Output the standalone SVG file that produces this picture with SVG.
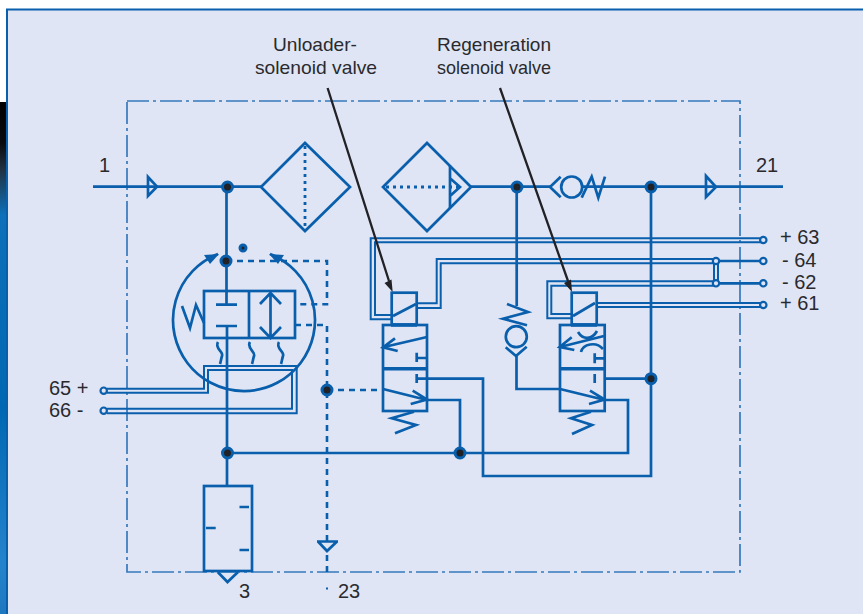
<svg xmlns="http://www.w3.org/2000/svg" width="863" height="614" viewBox="0 0 863 614">
<style>
text{font-family:"Liberation Sans",Arial,sans-serif;font-size:20px;fill:#2a2a2e}
.l{fill:none;stroke:#0a5fad;stroke-width:2.7;stroke-linejoin:miter}
.t{fill:none;stroke:#0a5fad;stroke-width:2}
.h{fill:none;stroke:#0a5fad;stroke-width:3.6}
.d{fill:none;stroke:#0a5fad;stroke-width:2.6;stroke-dasharray:6 5}
.o{fill:none;stroke:#0a5fad;stroke-width:2.8;stroke-dasharray:3 4}
.b{fill:none;stroke:#3679bd;stroke-width:1.7;stroke-dasharray:22 4 3 4}
.k{fill:none;stroke:#222226;stroke-width:2.3}
.j{fill:#222226;stroke:#0a5fad;stroke-width:3}
.c{fill:#dfe5f4;stroke:#0a5fad;stroke-width:2.2}
</style>
<defs>
<linearGradient id="strip" x1="0" y1="0" x2="0" y2="1">
<stop offset="0" stop-color="#000"/><stop offset="0.08" stop-color="#0a0a0e"/><stop offset="0.13" stop-color="#20303f"/><stop offset="0.22" stop-color="#0d70b8"/><stop offset="0.6" stop-color="#0068b2"/><stop offset="0.9" stop-color="#2484cb"/><stop offset="1" stop-color="#1e78c0"/>
</linearGradient>
<circle id="dot" r="5" class="j"/>
<circle id="term" r="3.2" class="c"/>
</defs>
<rect width="863" height="614" fill="#fff"/>
<rect x="0" y="102" width="8" height="512" fill="url(#strip)"/>
<rect x="7" y="9.5" width="870" height="620" fill="#dfe5f4" stroke="#0a5fad" stroke-width="2"/>
<rect id="boundary" x="127" y="101" width="613" height="471" class="b"/>

<g id="connectors">
<path class="l" d="M93 186.7H261M471 186.7H550M582 186.7H783"/>
<path class="l" d="M226.5 187V304M227 326V486M227 453H628V400H605M427 400H460V453"/>
<path class="l" d="M516.7 187V306M516.5 356V389H560M651 187V476H483V378.7H417M605 378.7H651"/>
<path class="d" d="M226 261H327V304.3H295M295 325H327V541M327 390H383M327 555V576"/>
<path class="t" d="M107 388.7H204V366H296.7V413.3H107M107 392.7H208V370H292V408.7H107"/>
<path class="t" d="M763 238.3H370.7V319.3H392M763 242.3H375V315H392"/>
<path class="t" d="M716 259H436.7V303.3H417M716 263.3H440.7V308H417"/>
<path class="t" d="M716 281.3H547.3V318.3H572M716 285.7H551.3V314H572"/>
<path class="t" d="M596.7 303H763M596.7 307H763"/>
<path class="l" d="M716 261H763M716 283.3H763"/>
<path class="t" d="M714 261V283.3M718 261V283.3"/>
<path class="k" d="M327.6 88L389 281M500 88L568 281"/>
<path fill="#222226" d="M392.7 292L384.5 283L391.5 279.5ZM572 292L564 283L571 279.5Z"/>
<use href="#dot" x="227.5" y="187"/>
<use href="#dot" x="226" y="261"/>
<use href="#dot" x="517" y="187"/>
<use href="#dot" x="651" y="187"/>
<use href="#dot" x="651" y="378.7"/>
<use href="#dot" x="327" y="390"/>
<use href="#dot" x="227.5" y="453"/>
<use href="#dot" x="460" y="453"/>
<use href="#term" x="716" y="261"/>
<use href="#term" x="716" y="283.3"/>
<use href="#term" x="763.3" y="240"/>
<use href="#term" x="763.3" y="261"/>
<use href="#term" x="763.3" y="283.3"/>
<use href="#term" x="763.3" y="305"/>
<use href="#term" x="103.7" y="390.7"/>
<use href="#term" x="103.7" y="410.7"/>
<circle cx="243" cy="248" r="3" class="j"/>
<rect x="326" y="587.5" width="2" height="2" fill="#0a5fad"/>
</g>

<g id="inlet-check"><path class="l" d="M148 177L157 186.7L148 196Z"/></g>
<g id="outlet-check"><path class="l" d="M706 176L716 187L706 197Z"/></g>

<g id="filter-1">
<path class="l" d="M261 187L305 143L350 187L305 231Z"/>
<path class="o" d="M305 146V228"/>
</g>
<g id="filter-2">
<path class="l" d="M383 187L427 143L471 187L427 231Z"/>
<path class="o" d="M386 187H458"/>
<path class="l" d="M450 165.7V208M450 178.3L460 187L450 196"/>
</g>
<g id="check-valve-outlet">
<path class="l" d="M560.7 176.7L550 187L560.7 197.3"/>
<circle cx="571.7" cy="187" r="10.5" class="l"/>
<path class="l" d="M581.7 197.7L591.7 176.7L598.3 197.7L605 176.7"/>
</g>

<g id="dryer">
<path class="l" d="M218 254A71 71 0 1 0 270 254"/>
<path fill="#0a5fad" d="M219 254L204 255L210 264Z"/>
<path fill="#0a5fad" d="M269 254L284 255L278 264Z"/>
<rect x="204" y="291" width="91" height="47" class="l"/>
<path class="l" d="M249 291V338M216 304.6H237M216 326H237"/>
<path class="l" d="M270.5 293V337M260 304L270.5 293L281 304M260 327L270.5 338L281 327"/>
<path class="l" d="M182 306L190 328L196 305L204 323"/>
<path class="l" d="M218 342C214 348 224 352 222 356C221 359 221 361 220 364"/>
<path class="l" d="M250 342C246 348 256 352 254 356C253 359 253 361 252 364"/>
<path class="l" d="M279 342C275 348 285 352 283 356C282 359 282 361 281 364"/>
</g>

<g id="unloader-valve">
<rect x="383" y="325" width="44" height="86" class="l"/>
<rect x="391.7" y="292.7" width="25" height="32" class="l"/>
<path class="h" d="M391 325H417M383 368.7H427"/>
<path class="l" d="M393 316L416 304"/>
<path class="l" d="M427 337L383 347.3M395 338.3L383 347.3L397.7 351"/>
<path class="l" d="M427 358H417M416.7 352.7V362M416.7 374V383"/>
<path class="l" d="M383 389L427 400M412.7 390.7L427 399.5L410.7 404"/>
<path class="l" d="M414 411.7L391.7 418.3L416 425L395 433.3"/>
</g>

<g id="regeneration-valve">
<rect x="560" y="325" width="44.7" height="86" class="l"/>
<rect x="571.7" y="292.7" width="25" height="32" class="l"/>
<path class="h" d="M571 325H597M560 368.7H605"/>
<path class="l" d="M573 316L595 303"/>
<path class="l" d="M604 336L560 347M571.7 337.3L559.7 347L574.3 350"/>
<path class="l" d="M578 332C583 340 592 340 597 331M581 352C583 344 596 341 603 349"/>
<path class="l" d="M604 358.3H594.7M594.7 353.3V363.3M594.7 374V383"/>
<path class="l" d="M560 389L605 400M590 390.7L604.7 399.5L589 404"/>
<path class="l" d="M591 411.7L571 418.3L592 425L572 434"/>
</g>

<g id="check-valve-bypass">
<path class="l" d="M507 304L528 312L503 318.7L527 325.3"/>
<circle cx="516.3" cy="336.7" r="10.5" class="l"/>
<path class="l" d="M505.7 347.3L516 356L526.7 346.7"/>
</g>

<g id="drain">
<rect x="204" y="486" width="48" height="85" class="l"/>
<path class="l" d="M239.5 507H249M239.5 550H249M206 528H215.7"/>
<path class="l" d="M217.7 572L227.5 582L238 572"/>
</g>
<g id="exhaust"><path class="l" d="M317 541.5H338M318 541.5L327 551L337 541.5"/></g>

<g id="labels">
<text x="273" y="51" textLength="84" lengthAdjust="spacingAndGlyphs" style="font-size:18.5px">Unloader-</text>
<text x="255" y="74" textLength="122" lengthAdjust="spacingAndGlyphs" style="font-size:18.5px">solenoid valve</text>
<text x="437" y="51" textLength="114" lengthAdjust="spacingAndGlyphs" style="font-size:18.5px">Regeneration</text>
<text x="437" y="74" textLength="114" lengthAdjust="spacingAndGlyphs" style="font-size:18.5px">solenoid valve</text>
<text x="99" y="172">1</text>
<text x="756" y="172">21</text>
<text x="780" y="244">+ 63</text>
<text x="782" y="267">-  64</text>
<text x="782" y="289">-  62</text>
<text x="780" y="310">+ 61</text>
<text x="49" y="395">65 +</text>
<text x="49" y="417">66 -</text>
<text x="239" y="598">3</text>
<text x="338" y="598">23</text>
</g>
</svg>
